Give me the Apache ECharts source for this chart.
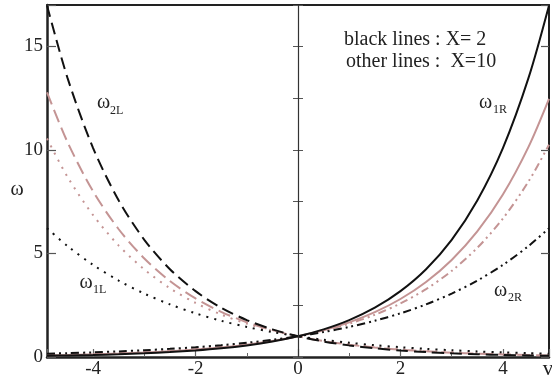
<!DOCTYPE html>
<html>
<head>
<meta charset="utf-8">
<script src="https://cdn.jsdelivr.net/npm/echarts@6/dist/echarts.min.js"></script>
<style>
html,body{margin:0;padding:0;background:#fff;}
#chart{width:552px;height:382px;}
</style>
</head>
<body>
<div id="chart"></div>
<script>
// v sample points
const vVals = [-4.9,-4.5,-4,-3.5,-3,-2.5,-2,-1.5,-1,-0.5,0,0.5,1,1.5,2,2.5,3,3.5,4,4.5,4.9];
// black lines : X = 2
const w1R_X2 = [0.059,0.074,0.099,0.132,0.177,0.236,0.315,0.420,0.561,0.749,1,1.335,1.782,2.38,3.18,4.24,5.66,7.56,10.09,13.48,16.98];
const w2L_X2 = [16.98,13.48,10.09,7.56,5.66,4.24,3.18,2.38,1.782,1.335,1,0.749,0.561,0.420,0.315,0.236,0.177,0.132,0.099,0.074,0.059];
const w2R_X2 = [0.161,0.187,0.225,0.271,0.327,0.394,0.474,0.571,0.689,0.830,1,1.205,1.452,1.75,2.109,2.541,3.062,3.69,4.447,5.358,6.22];
const w1L_X2 = [6.22,5.358,4.447,3.69,3.062,2.541,2.109,1.75,1.452,1.205,1,0.830,0.689,0.571,0.474,0.394,0.327,0.271,0.225,0.187,0.161];
// other lines : X = 10
const w1R_X10 = [0.080,0.099,0.128,0.165,0.213,0.276,0.357,0.462,0.598,0.773,1,1.294,1.674,2.165,2.801,3.623,4.688,6.065,7.846,10.15,12.47];
const w2L_X10 = [12.78,10.38,8.0,6.17,4.76,3.67,2.83,2.18,1.68,1.297,1,0.771,0.595,0.458,0.353,0.273,0.210,0.162,0.125,0.096,0.078];
const w2R_X10 = [0.098,0.118,0.150,0.190,0.241,0.305,0.387,0.490,0.622,0.789,1,1.268,1.608,2.039,2.586,3.279,4.158,5.272,6.686,8.478,10.25];
const w1L_X10 = [10.55,8.7,6.85,5.38,4.23,3.32,2.61,2.05,1.61,1.27,1,0.787,0.619,0.487,0.383,0.301,0.236,0.186,0.146,0.115,0.095];

const BLACK = '#111';
const PINK = '#c49494';
const SERIF = '"Liberation Serif", "DejaVu Serif", serif';

function pts(arr){ return vVals.map((v,i)=>[v, arr[i]]); }
function line(name, arr, color, dash, width){
  return {
    name, type:'line', data: pts(arr), showSymbol:false, smooth:0.3,
    xAxisIndex:0, yAxisIndex:0, clip:true, silent:true,
    lineStyle:{color, width: width||2, type: dash||'solid', cap:'butt'}
  };
}

const chart = echarts.init(document.getElementById('chart'), null, {renderer:'canvas'});
const series = [
  line('w1L_X10', w1L_X10, PINK, [2,6], 2),
  line('w2L_X10', w2L_X10, PINK, [13,6], 2),
  line('w2R_X10', w2R_X10, PINK, [8,4,2,4,2,4], 2),
  line('w1R_X10', w1R_X10, PINK, 'solid', 2),
  line('w1L_X2', w1L_X2, BLACK, [2,6], 2),
  line('w2L_X2', w2L_X2, BLACK, [12,6], 2),
  line('w2R_X2', w2R_X2, BLACK, [8,4,2,4,2,4], 2),
  line('w1R_X2', w1R_X2, BLACK, 'solid', 2)
];
series[0].markLine = {
  silent:true, symbol:['none','none'], label:{show:false},
  lineStyle:{color:'#333', width:1.2, type:'solid'},
  data:[{xAxis:0}]
};

const axisCommonX = {type:'value', min:-4.9, max:4.9, splitLine:{show:false}};
const axisCommonY = {type:'value', min:0, max:17, splitLine:{show:false}};

chart.setOption({
  animation:false,
  backgroundColor:'#fff',
  grid:{left:47, right:1, top:5, bottom:25, containLabel:false},
  xAxis:[
    Object.assign({}, axisCommonX, {
      position:'bottom', splitNumber:5,
      axisLine:{show:true, onZero:false, lineStyle:{color:'#222', width:2.5}},
      axisTick:{show:true, inside:true, length:8, lineStyle:{color:'#666', width:1.2}},
      axisLabel:{show:true, margin:3, color:'#222', fontFamily:SERIF, fontSize:19,
        formatter:(v)=> (Math.abs(v - Math.round(v)) < 1e-9 && Math.round(v) % 2 === 0) ? String(Math.round(v)) : ''}
    }),
    Object.assign({}, axisCommonX, {
      position:'bottom', splitNumber:10,
      axisLine:{show:false},
      axisTick:{show:true, inside:true, length:4, lineStyle:{color:'#666', width:1}},
      axisLabel:{show:false}
    }),
    Object.assign({}, axisCommonX, {
      position:'top', splitNumber:5,
      axisLine:{show:true, onZero:false, lineStyle:{color:'#222', width:2}},
      axisTick:{show:false}, axisLabel:{show:false}
    })
  ],
  yAxis:[
    Object.assign({}, axisCommonY, {
      position:'left', interval:5,
      axisLine:{show:true, onZero:false, lineStyle:{color:'#222', width:2.5}},
      axisTick:{show:true, inside:true, length:9, lineStyle:{color:'#555', width:1.2}},
      axisLabel:{show:true, margin:4, color:'#222', fontFamily:SERIF, fontSize:19,
        formatter:(v)=> (v % 5 === 0) ? String(v) : ''}
    }),
    Object.assign({}, axisCommonY, {
      position:'left', interval:2.5,
      axisLine:{show:false},
      axisTick:{show:true, inside:true, length:5, lineStyle:{color:'#555', width:1}},
      axisLabel:{show:false}
    }),
    Object.assign({}, axisCommonY, {
      position:'right', interval:5,
      axisLine:{show:true, onZero:false, lineStyle:{color:'#222', width:2}},
      axisTick:{show:true, inside:true, length:8, lineStyle:{color:'#555', width:1.2}},
      axisLabel:{show:false}
    }),
    Object.assign({}, axisCommonY, {
      position:'right', interval:2.5,
      axisLine:{show:false},
      axisTick:{show:true, inside:true, length:5, lineStyle:{color:'#555', width:1}},
      axisLabel:{show:false}
    })
  ],
  series,
  graphic:[
    {type:'text', x:344, y:40, silent:true, style:{text:'black lines : X= 2', fill:'#222', font:'20px '+SERIF, align:'left', verticalAlign:'middle'}},
    {type:'text', x:346, y:62, silent:true, style:{text:'other lines :  X=10', fill:'#222', font:'20px '+SERIF, align:'left', verticalAlign:'middle'}},
    {type:'text', x:97, y:103, silent:true, style:{text:'ω', fill:'#222', font:'20px '+SERIF, align:'left', verticalAlign:'middle'}},
    {type:'text', x:110, y:111, silent:true, style:{text:'2L', fill:'#222', font:'12px '+SERIF, align:'left', verticalAlign:'middle'}},
    {type:'text', x:79.5, y:283, silent:true, style:{text:'ω', fill:'#222', font:'20px '+SERIF, align:'left', verticalAlign:'middle'}},
    {type:'text', x:93, y:289.5, silent:true, style:{text:'1L', fill:'#222', font:'12px '+SERIF, align:'left', verticalAlign:'middle'}},
    {type:'text', x:479, y:103, silent:true, style:{text:'ω', fill:'#222', font:'20px '+SERIF, align:'left', verticalAlign:'middle'}},
    {type:'text', x:493, y:110, silent:true, style:{text:'1R', fill:'#222', font:'12px '+SERIF, align:'left', verticalAlign:'middle'}},
    {type:'text', x:494, y:291, silent:true, style:{text:'ω', fill:'#222', font:'20px '+SERIF, align:'left', verticalAlign:'middle'}},
    {type:'text', x:508, y:298, silent:true, style:{text:'2R', fill:'#222', font:'12px '+SERIF, align:'left', verticalAlign:'middle'}},
    {type:'text', x:17, y:190, silent:true, style:{text:'ω', fill:'#222', font:'20px '+SERIF, align:'center', verticalAlign:'middle'}},
    {type:'text', x:548, y:369, silent:true, style:{text:'v', fill:'#222', font:'21px '+SERIF, align:'center', verticalAlign:'middle'}}
  ]
});
</script>
</body>
</html>
